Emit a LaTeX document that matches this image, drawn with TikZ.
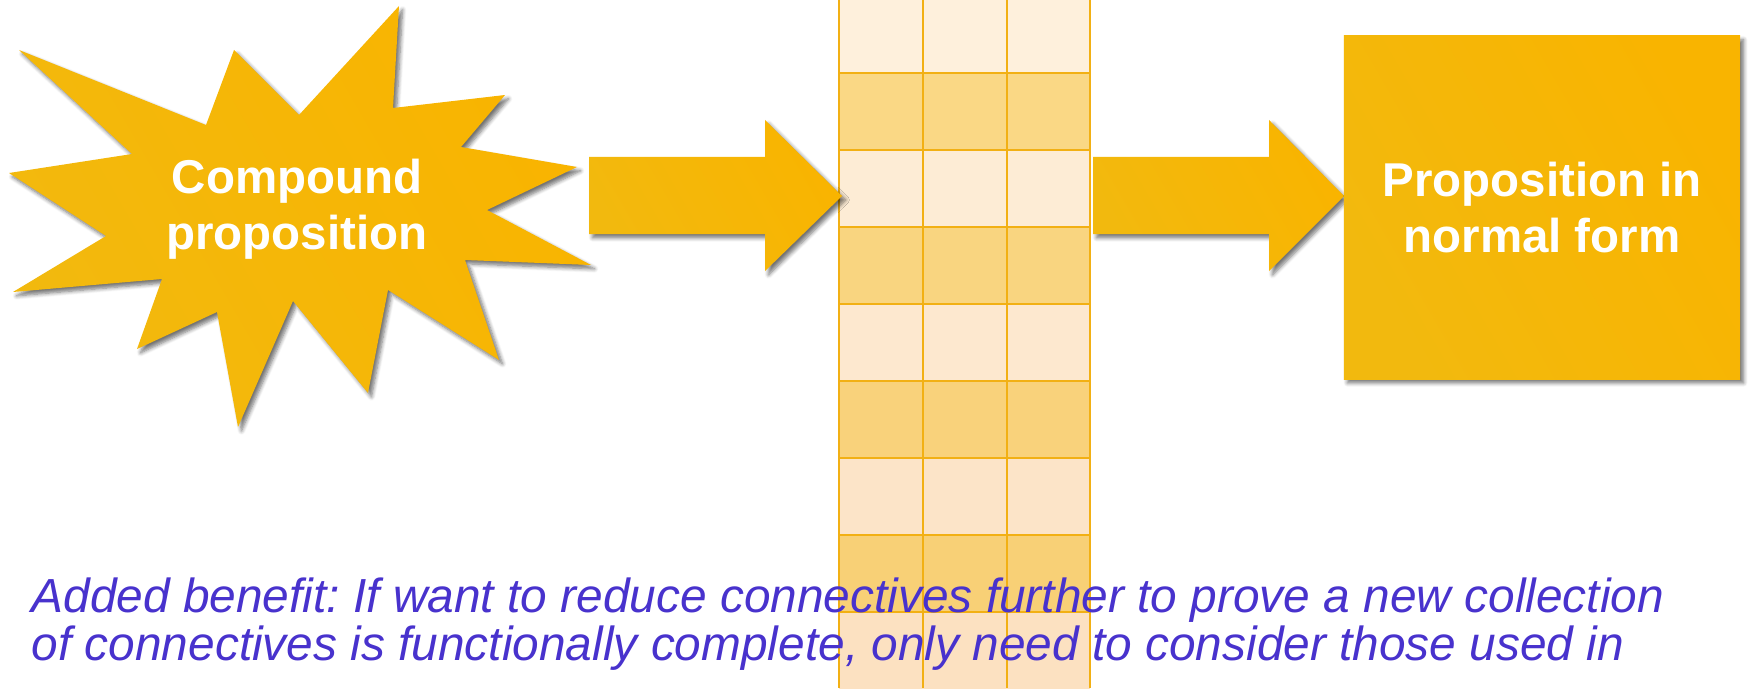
\documentclass[tikz,border=0pt]{standalone}
\usepackage{fontspec}
\setmainfont{Liberation Sans}
\usetikzlibrary{shadows.blur}

\definecolor{goldA}{RGB}{242,185,14}
\definecolor{goldB}{RGB}{252,196,2}
\definecolor{goldC}{RGB}{249,180,0}
\definecolor{rowlight}{RGB}{254,240,220}
\definecolor{rowlightB}{RGB}{252,224,192}
\definecolor{rowdark}{RGB}{250,217,136}
\definecolor{rowdarkB}{RGB}{248,206,114}
\definecolor{gridline}{RGB}{242,176,20}
\definecolor{notecol}{RGB}{72,50,205}

\tikzset{
  goldfill/.style={left color=goldA, middle color=goldB, right color=goldC,
    shading angle=120,
    blur shadow={shadow xshift=1pt, shadow yshift=-1.1pt,
      shadow blur radius=1.1pt, shadow blur steps=6, shadow opacity=55}},
  whitelabel/.style={text=white, font=\fontsize{13.5}{15.9}\selectfont\bfseries,
    align=center, inner sep=0pt},
  notetext/.style={text=notecol, font=\fontsize{13.6}{13.6}\selectfont\itshape\frenchspacing,
    inner sep=0pt, anchor=base west},
  gridstroke/.style={draw=gridline, line width=0.6pt}
}

\begin{document}
\begin{tikzpicture}[x=0.01cm, y=-0.01cm]
    \useasboundingbox (0,0) rectangle (1749,688);
    % starburst
    \shade[goldfill] (19,50) -- (206,125) -- (234,50) -- (299,115) -- (399,6)
      -- (393,108) -- (505,95) -- (461,147) -- (577,167) -- (487,210)
      -- (591,265) -- (465,260) -- (499,360) -- (388,290) -- (368,393)
      -- (293,301) -- (238,427) -- (217,312) -- (137,349) -- (162,279)
      -- (13,292) -- (106,236) -- (9,173) -- (132,154) -- cycle;
    \node[whitelabel] (cp) at (297,209) {Compound\\proposition};
    % truth table
    \foreach \r in {0,...,8} {
      \pgfmathsetmacro{\mix}{100-12*\r}
      \pgfmathtruncatemacro{\odd}{mod(\r,2)}
      \ifnum\odd=0
        \fill[rowlight!\mix!rowlightB] (839,{-4+77*\r}) rectangle (1090,{73+77*\r});
      \else
        \fill[rowdark!\mix!rowdarkB] (839,{-4+77*\r}) rectangle (1090,{73+77*\r});
      \fi
    }
    \foreach \x in {839,923,1007,1090}
      \draw[gridstroke] (\x,0) -- (\x,688);
    \foreach \r in {1,...,8}
      \draw[gridstroke] (839,{-4+77*\r}) -- (1090,{-4+77*\r});
    % block arrows
    \shade[goldfill] (589,157) -- (765,157) -- (765,120) -- (842,196)
      -- (765,271) -- (765,234) -- (589,234) -- cycle;
    \shade[goldfill] (1093,157) -- (1269,157) -- (1269,120) -- (1344,196)
      -- (1269,271) -- (1269,234) -- (1093,234) -- cycle;
    % normal form box
    \node[goldfill, whitelabel, minimum width=3.96cm, minimum height=3.43cm]
      (nf) at (1542,207.5) {Proposition in\\normal form};
    % remark
    \node[notetext] (note1) at (31,612)
      {Added benefit: If want to reduce connectives further to prove a new collection};
    \node[notetext] (note2) at (31,660)
      {of connectives is functionally complete, only need to consider those used in};
\end{tikzpicture}
\end{document}
